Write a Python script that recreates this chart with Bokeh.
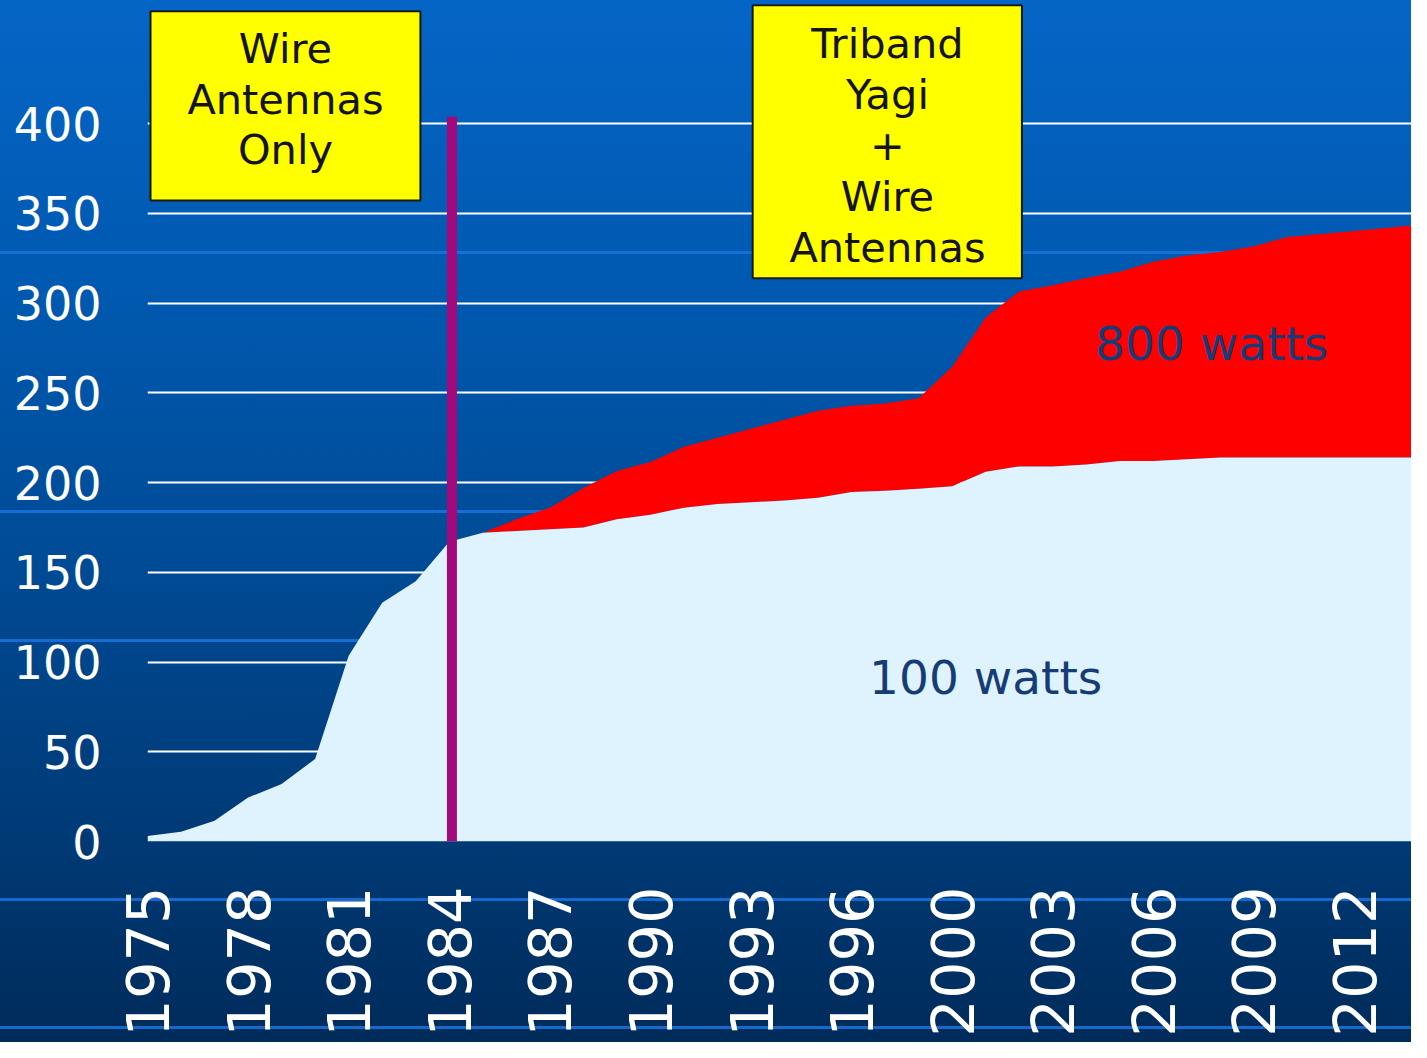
import math
from bokeh.plotting import figure
from bokeh.models import FixedTicker
from bokeh.core.properties import value
from bokeh.embed import file_html
from bokeh.resources import INLINE

# ---------------- data ----------------
years = [1975, 1976, 1977, 1978, 1979, 1980, 1981, 1982, 1983, 1984,
         1985, 1986, 1987, 1988, 1989, 1990, 1991, 1992, 1993, 1994,
         1995, 1996, 1997, 1998, 2000, 2001, 2002, 2003, 2004, 2005,
         2006, 2007, 2008, 2009, 2010, 2011, 2012, 2013, 2014]

watts_100 = [3, 5.5, 11.5, 24.5, 32, 46, 103.5, 133, 145, 167,
             172, 173, 174, 175, 179.5, 182, 186, 188, 189, 190,
             191.5, 194.8, 195.5, 196.5, 198, 206, 209, 209, 210, 212,
             212, 213, 214, 214, 214, 214, 214, 214, 214]

# extra (stacked) amount with 800 watts, starting in 1985
watts_800_start = 1985
watts_800 = [0, 6.5, 12, 22, 27, 29.5, 34, 37, 41, 45,
             48.5, 48, 48.5, 50.5, 66.5, 86, 97.5, 101, 104, 105.5,
             111, 113.5, 114.5, 117.7, 122.8, 124.5, 126.2, 128, 129.7]

y_ticks = [0, 50, 100, 150, 200, 250, 300, 350, 400]
tick_every = 3
marker_year = 1984
marker_top = 404

series_labels = ["100 watts", "800 watts"]
box_texts = ["Wire\nAntennas\nOnly", "Triband\nYagi\n+\nWire\nAntennas"]

# ---------------- figure ----------------
idx = list(range(len(years)))

W, H = 1411, 1042
p = figure(width=W, height=H, output_backend="svg", toolbar_location=None,
           x_range=(0, 37.7), y_range=(0, 468.6),
           min_border_left=147, min_border_right=0, min_border_top=0,
           min_border_bottom=201)

stripe = "rgba(25,115,225,0.85)"
stripes = []
for yy in (251, 510, 639, 898, 1026):
    stripes.append(f"linear-gradient(to bottom, transparent {yy}px, {stripe} {yy}px, "
                   f"{stripe} {yy+3}px, transparent {yy+3}px)")
p.styles = {"background": ", ".join(stripes) +
            ", linear-gradient(to bottom, #0565c6 0%, #0058ae 30%, #004a94 55%, #003a76 80%, #002b5a 100%)"}
p.background_fill_alpha = 0
p.border_fill_alpha = 0
p.outline_line_color = None

# grid
p.xgrid.grid_line_color = None
p.ygrid.grid_line_color = "white"
p.ygrid.grid_line_width = 2
p.yaxis.ticker = FixedTicker(ticks=y_ticks)

# axes
for ax in (p.xaxis, p.yaxis):
    ax.axis_line_color = None
    ax.major_tick_line_color = None
    ax.minor_tick_line_color = None
    ax.major_tick_out = 0
    ax.major_tick_in = 0
    ax.major_label_text_color = "white"
    ax.major_label_text_font = "DejaVu Sans"

p.yaxis.major_label_text_font_size = "46px"
p.yaxis.major_label_standoff = 46

ticks = idx[::tick_every]
p.xaxis.ticker = FixedTicker(ticks=ticks)
p.xaxis.major_label_overrides = {i: str(years[i]) for i in ticks}
p.xaxis.major_label_orientation = math.pi / 2
p.xaxis.major_label_text_font_size = "59px"
p.xaxis.major_label_standoff = 45

# areas
s = years.index(watts_800_start)
x_red = idx[s:]
base = watts_100[s:]
top = [a + b for a, b in zip(base, watts_800)]
p.varea(x=x_red, y1=base, y2=top, fill_color="#ff0000", fill_alpha=1)
p.varea(x=idx, y1=[0] * len(idx), y2=watts_100, fill_color="#dff3fe", fill_alpha=1)

# vertical marker
mx = years.index(marker_year)
p.segment(x0=[mx + 0.08], y0=[0], x1=[mx + 0.08], y1=[marker_top], line_color="#a2097c",
          line_width=10)

# series labels
p.text(x=[25.0, 31.74], y=[91.6, 277.6], text=series_labels,
       text_font=value("DejaVu Sans"), text_font_size="47px",
       text_color="#163c78", text_align="center", text_baseline="middle")

# yellow boxes
p.quad(left=[0.09, 18.05], right=[8.14, 26.08], top=[462.6, 466.0],
       bottom=[357.2, 313.9], fill_color="#ffff00", line_color="#1a1a1a",
       line_width=2)
p.text(x=[4.115, 22.07], y=[413.7, 387.9], text=box_texts,
       text_font=value("DejaVu Sans"), text_font_size="41.5px",
       text_color="#141414", text_align="center", text_baseline="middle",
       text_line_height=1.04)

open("out.html", "w").write(file_html(p, INLINE))
